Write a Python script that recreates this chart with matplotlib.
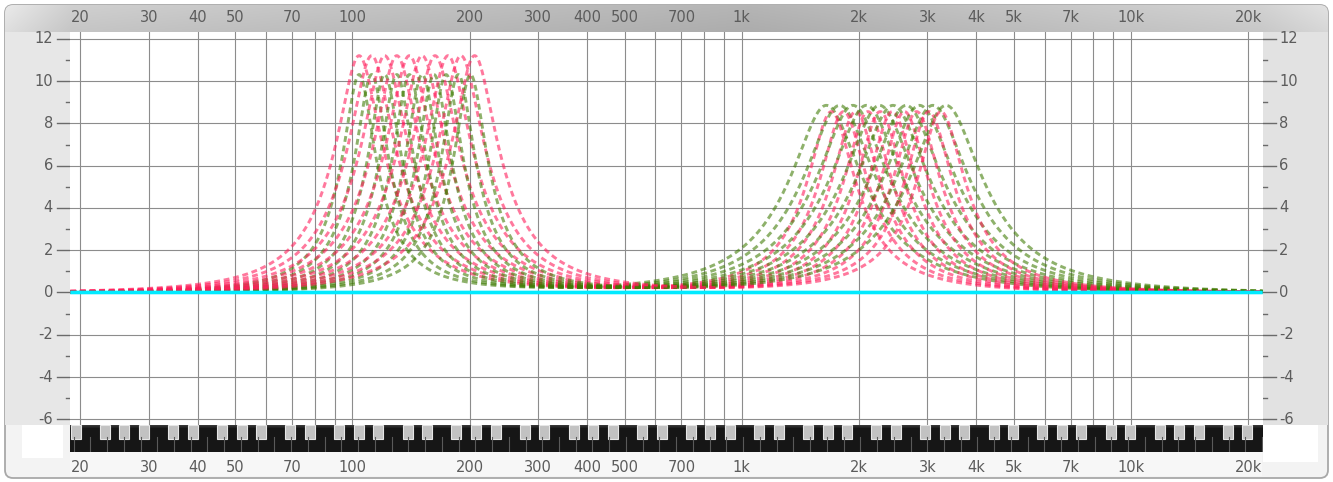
import numpy as np
import matplotlib
matplotlib.use("Agg")
import matplotlib.pyplot as plt
from matplotlib.patches import FancyBboxPatch, Rectangle
from matplotlib.transforms import blended_transform_factory as blend

# ---------------- data ----------------
# band parameters of the two EQ families
red_low_fc = [104, 112, 121, 130, 140, 151, 163, 176, 190, 206]
red_low_gain = 11.2
red_low_q = 2.7
red_mid_fc = [1700, 1827, 1963, 2110, 2268, 2437, 2619, 2815, 3025, 3250]
red_mid_gain = 8.55
red_mid_q = 2.7

green_low_fc = [104, 112, 121, 130, 140, 151, 162, 174, 187, 201]
green_low_gain = 10.3
green_low_q = 3.8
green_mid_fc = [1650, 1785, 1931, 2090, 2261, 2446, 2646, 2863, 3097, 3350]
green_mid_gain = 8.85
green_mid_q = 1.8

freq_ticks = [20, 30, 40, 50, 70, 100, 200, 300, 400, 500, 700,
              1000, 2000, 3000, 4000, 5000, 7000, 10000, 20000]
freq_labels = ["20", "30", "40", "50", "70", "100", "200", "300", "400", "500",
               "700", "1k", "2k", "3k", "4k", "5k", "7k", "10k", "20k"]
db_major = [-6, -4, -2, 0, 2, 4, 6, 8, 10, 12]
db_labels = ["-6", "-4", "-2", "0", "2", "4", "6", "8", "10", "12"]
db_minor = [-5, -3, -1, 1, 3, 5, 7, 9, 11]

# ---------------- helpers ----------------
def peaking_db(f, fc, gain, q):
    A = 10 ** (gain / 40.0)
    w = f / fc
    num = (1 - w ** 2) ** 2 + (w * A / q) ** 2
    den = (1 - w ** 2) ** 2 + (w / (A * q)) ** 2
    return 10 * np.log10(num / den)

W, H = 1333, 482
fig = plt.figure(figsize=(W / 100, H / 100), dpi=100)
fig.patch.set_facecolor("white")

bg = fig.add_axes([0, 0, 1, 1])
bg.set_xlim(0, W)
bg.set_ylim(H, 0)
bg.axis("off")

# outer frame
frame = FancyBboxPatch((5, 5), 1323, 473, boxstyle="round,pad=0,rounding_size=8",
                       facecolor="#f3f3f3", edgecolor="#a8a8a8", lw=1.3, zorder=0)
bg.add_patch(frame)

# header gradient
xs = np.array([5, 70, 400, 750, 1100, 1262, 1328])
vals = np.array([0.89, 0.79, 0.74, 0.69, 0.77, 0.80, 0.86])
gx = np.linspace(5, 1328, 600)
gv = np.interp(gx, xs, vals)
grad = np.tile(gv, (30, 1))
vshade = np.linspace(1.03, 0.98, 30)[:, None]
img = np.clip(grad * vshade, 0, 1)
im = bg.imshow(np.dstack([img, img, img]), extent=(5, 1328, 32, 5), aspect="auto",
               zorder=1, interpolation="bilinear")
im.set_clip_path(frame)

# side panels
bg.add_patch(Rectangle((5, 32), 65, 393, facecolor="#e7e7e7", edgecolor="none", zorder=1))
bg.add_patch(Rectangle((1262, 32), 66, 393, facecolor="#e2e2e2", edgecolor="none", zorder=1))
# white boxes beside keyboard
bg.add_patch(Rectangle((22, 425), 41, 33, facecolor="white", edgecolor="none", zorder=1))
bg.add_patch(Rectangle((1263, 425), 55, 37, facecolor="white", edgecolor="none", zorder=1))
bg.add_patch(Rectangle((70, 452), 1192, 24, facecolor="#f7f7f7", edgecolor="none", zorder=1))

# ---------------- main axes ----------------
x0, x1 = 70.3, 1262.7
y_top, y_bot = 32.3, 425.0
ax = fig.add_axes([x0 / W, (H - y_bot) / H, (x1 - x0) / W, (y_bot - y_top) / H])
ax.set_xscale("log")
ax.set_xlim(18.84, 21800)
ax.set_ylim(-6.27, 12.31)
ax.set_facecolor("white")
for s in ax.spines.values():
    s.set_visible(False)
ax.set_xticks([])
ax.set_yticks([])
ax.minorticks_off()

grid_col = "#8c8c8c"
grid_freqs = [m * 10 ** e for e in range(1, 5) for m in range(1, 10)]
grid_freqs = [g for g in grid_freqs if 20 <= g <= 20000]
for g in grid_freqs:
    ax.axvline(g, color=grid_col, lw=0.8, zorder=1)
for d in db_major:
    ax.axhline(d, color=grid_col, lw=0.8, zorder=1)

f = np.geomspace(18.84, 21800, 1500)
red_col = (1.0, 0.12, 0.36, 0.6)
green_col = (0.24, 0.48, 0.0, 0.58)
dash = (0, (2.0, 1.3))
for i in range(len(red_low_fc)):
    yr = peaking_db(f, red_low_fc[i], red_low_gain, red_low_q) + \
         peaking_db(f, red_mid_fc[i], red_mid_gain, red_mid_q)
    yg = peaking_db(f, green_low_fc[i], green_low_gain, green_low_q) + \
         peaking_db(f, green_mid_fc[i], green_mid_gain, green_mid_q)
    ax.plot(f, yg, color=green_col, lw=2.1, ls=dash, dash_capstyle="butt", zorder=3)
    ax.plot(f, yr, color=red_col, lw=2.1, ls=dash, dash_capstyle="butt", zorder=3)

ax.plot(f, np.zeros_like(f), color="#00eaff", lw=2.6, zorder=5, solid_capstyle="butt")

# ---------------- keyboard ----------------
kb = fig.add_axes([x0 / W, (H - 452) / H, (x1 - x0) / W, 27 / H])
kb.set_xscale("log")
kb.set_xlim(18.84, 21800)
kb.set_ylim(0, 1)
kb.axis("off")
kb.add_patch(Rectangle((18.84, 0), 21800 - 18.84, 1, facecolor="#161616", edgecolor="none"))
# top shading
for k, a in enumerate([0.35, 0.22, 0.12]):
    kb.axhspan(1 - (k + 1) / 27, 1 - k / 27, color="#777777", alpha=a, lw=0)
midi = np.arange(10, 140)
note_f = 440.0 * 2 ** ((midi - 69) / 12.0)
is_black = np.isin(midi % 12, [1, 3, 6, 8, 10])
# white key separators (7 equal keys per octave, starting at E/F boundary)
sep_midi = 16.5 + np.arange(-14, 80) * 12 / 7.0
sep_f = 440.0 * 2 ** ((sep_midi - 69) / 12.0)
for sf in sep_f:
    if 18.84 < sf < 21800:
        kb.plot([sf, sf], [0, 0.55], color="#5a5a5a", lw=0.8)
half = 10 ** (5.0 / 389.1)
for nf, b in zip(note_f, is_black):
    if b and 15 < nf < 25000:
        kb.add_patch(Rectangle((nf / half, 0.47), nf * half - nf / half, 0.53,
                               facecolor="#c2c2c2", edgecolor="#e6e6e6", lw=0.8))

# ---------------- labels & ticks ----------------
lab_col = "#5c5c5c"
tx = blend(ax.transData, bg.transData)
for v, t in zip(freq_ticks, freq_labels):
    bg.text(v, 18, t, transform=tx, ha="center", va="center", fontsize=10.5,
            color=lab_col, family="DejaVu Sans", zorder=6)
    bg.text(v, 467, t, transform=tx, ha="center", va="center", fontsize=10.5,
            color=lab_col, family="DejaVu Sans", zorder=6)

ty = blend(bg.transData, ax.transData)
for v, t in zip(db_major, db_labels):
    bg.text(53, v, t, transform=ty, ha="right", va="center", fontsize=10.5,
            color=lab_col, family="DejaVu Sans", zorder=6)
    bg.text(1279, v, t, transform=ty, ha="left", va="center", fontsize=10.5,
            color=lab_col, family="DejaVu Sans", zorder=6)
    bg.plot([57, 70], [v, v], transform=ty, color="#6a6a6a", lw=1.0, zorder=6)
    bg.plot([1263, 1276], [v, v], transform=ty, color="#6a6a6a", lw=1.0, zorder=6)
for v in db_minor:
    bg.plot([66, 70], [v, v], transform=ty, color="#6a6a6a", lw=1.0, zorder=6)
    bg.plot([1263, 1267], [v, v], transform=ty, color="#6a6a6a", lw=1.0, zorder=6)

fig.savefig("out.png", dpi=100, facecolor=fig.get_facecolor())
